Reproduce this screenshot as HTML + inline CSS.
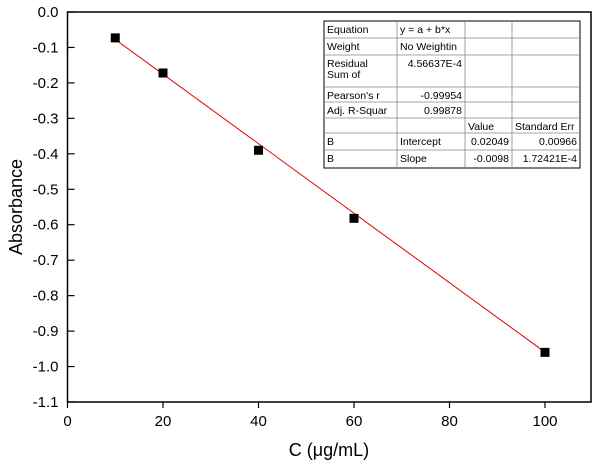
<!DOCTYPE html>
<html><head><meta charset="utf-8"><style>
body{margin:0;background:#fff;width:600px;height:470px;overflow:hidden}
text{font-family:"Liberation Sans",Arial,sans-serif}
.t{font-size:10.5px;fill:#000}
</style></head><body>
<svg id="chart" width="600" height="470" xmlns="http://www.w3.org/2000/svg">
<g id="axes"></g>
<g id="marks"></g>
<g id="table"></g>
<text x="329" y="456" font-size="18" text-anchor="middle">C (μg/mL)</text>
<text x="22" y="207" font-size="18" text-anchor="middle" transform="rotate(-90 22 207)">Absorbance</text>
</svg>
<script>
const xVals=[10,20,40,60,100];
const yVals=[-0.073,-0.172,-0.39,-0.582,-0.96];
const fitA=0.02049, fitB=-0.0098;
const xTicks=[0,20,40,60,80,100];
const yTicks=[0,-0.1,-0.2,-0.3,-0.4,-0.5,-0.6,-0.7,-0.8,-0.9,-1.0,-1.1];
const yTickLabels=["0.0","-0.1","-0.2","-0.3","-0.4","-0.5","-0.6","-0.7","-0.8","-0.9","-1.0","-1.1"];
const tableRows=[["Equation","y = a + b*x","",""],["Weight","No Weightin","",""],["Residual\nSum of","4.56637E-4","",""],["Pearson's r","-0.99954","",""],["Adj. R-Squar","0.99878","",""],["","","Value","Standard Err"],["B","Intercept","0.02049","0.00966"],["B","Slope","-0.0098","1.72421E-4"]];
const L=67.5,R=591,T=12,B=402;
const sx=v=>L+v*4.775;
const sy=v=>T+(-v)/1.1*(B-T);
const NS="http://www.w3.org/2000/svg";
function mk(p,tag,at){const e=document.createElementNS(NS,tag);for(const k in at)e.setAttribute(k,at[k]);p.appendChild(e);return e;}
const ax=document.getElementById('axes');
const fr=mk(ax,'rect',{x:L,y:T,width:R-L,height:B-T,fill:'none',stroke:'#000','stroke-width':1.5});


xTicks.forEach(v=>{
 const l=mk(ax,'line',{x1:sx(v),x2:sx(v),y1:B,y2:B+6,stroke:'#000','stroke-width':1.2});
 
 
 const t=mk(ax,'text',{x:sx(v),y:B+24,'font-size':15,'text-anchor':'middle'});t.textContent=v;
 
 
});
yTicks.forEach((v,i)=>{
 const l=mk(ax,'line',{x1:L,x2:L+7,y1:sy(v),y2:sy(v),stroke:'#000','stroke-width':1.2});
 
 
 const t=mk(ax,'text',{x:L-9,y:sy(v)+5,'font-size':15,'text-anchor':'end'});t.textContent=yTickLabels[i];
 
 
});
const mg=document.getElementById('marks');
const x0=xVals[0],x1=xVals[xVals.length-1];
const fl=mk(mg,'line',{x1:sx(x0),y1:sy(fitA+fitB*x0),x2:sx(x1),y2:sy(fitA+fitB*x1),stroke:'#e00000','stroke-width':1});


xVals.forEach((v,i)=>{
 const r=mk(mg,'rect',{x:sx(v)-4.5,y:sy(yVals[i])-4.5,width:9,height:9,fill:'#000'});
 
 
});
const tb=document.getElementById('table');
const cols=[324,397,465,512,580];
const rows=[21,38,55,87,102,118,133,150,168];
const bg=mk(tb,'rect',{x:cols[0],y:rows[0],width:cols[4]-cols[0],height:rows[8]-rows[0],fill:'#fff',stroke:'#000','stroke-width':1});
cols.slice(1,4).forEach(c=>mk(tb,'line',{x1:c,x2:c,y1:rows[0],y2:rows[8],stroke:'#888','stroke-width':0.8}));
rows.slice(1,8).forEach(r=>mk(tb,'line',{x1:cols[0],x2:cols[4],y1:r,y2:r,stroke:'#888','stroke-width':0.8}));
tableRows.forEach((row,ri)=>{
 row.forEach((cell,ci)=>{
  if(!cell)return;
  const right=(ri>=2&&ri<=4&&ci==1)||(ri>=6&&ci>=2);
  const lines=cell.split('\n');
  lines.forEach((ln,k)=>{
   const t=mk(tb,'text',{class:'t',x:right?cols[ci+1]-3:cols[ci]+3,y:rows[ri]+12+k*11,'text-anchor':right?'end':'start'});
   t.textContent=ln;
   
   
  });
 });
});
</script>
</body></html>
